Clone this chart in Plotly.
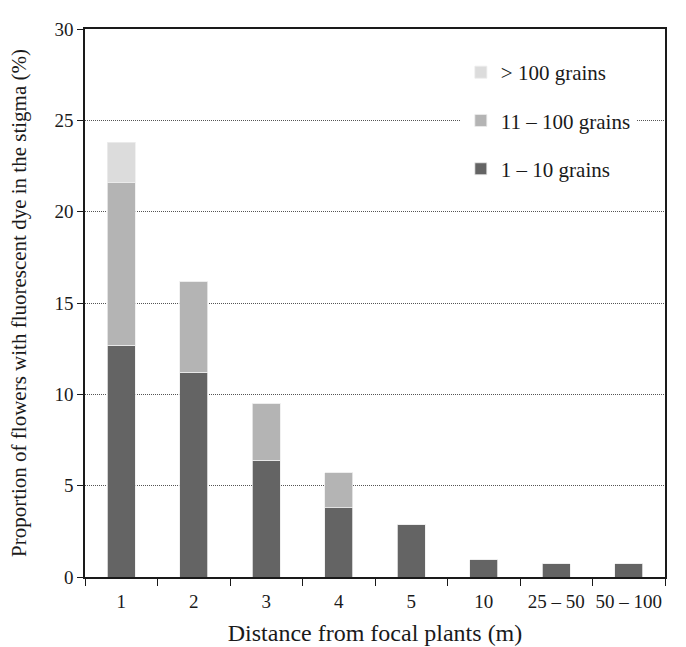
import plotly.graph_objects as go

categories = ["1", "2", "3", "4", "5", "10", "25 – 50", "50 – 100"]
grains_1_10 = [12.7, 11.2, 6.4, 3.8, 2.9, 0.95, 0.72, 0.72]
grains_11_100 = [8.9, 5.0, 3.1, 1.9, 0, 0, 0, 0]
grains_over_100 = [2.2, 0, 0, 0, 0, 0, 0, 0]
y_ticks = [0, 5, 10, 15, 20, 25, 30]

series = [
    ("1 – 10 grains", grains_1_10, "#646464", 3),
    ("11 – 100 grains", grains_11_100, "#b4b4b4", 2),
    ("> 100 grains", grains_over_100, "#dcdcdc", 1),
]

fig = go.Figure()
for name, vals, col, rank in series:
    fig.add_trace(go.Bar(
        x=categories, y=vals, name=name, legendgroup=name, legendrank=rank,
        marker=dict(color=col, line=dict(color="#eeeeee", width=0.8)),
    ))

font_family = "Liberation Serif"
fig.update_layout(
    width=686, height=647,
    barmode="stack", bargap=0.61,
    plot_bgcolor="white", paper_bgcolor="white",
    margin=dict(l=85, r=21, t=29, b=70),
    font=dict(family=font_family, size=19, color="#1a1a1a"),
    showlegend=True,
    legend=dict(
        x=0.648, y=0.958, xanchor="left", yanchor="top",
        traceorder="grouped", tracegroupgap=18,
        bgcolor="white", font=dict(size=21, family=font_family),
        itemwidth=30,
    ),
    xaxis=dict(
        showline=True, linecolor="#1a1a1a", linewidth=1.5, mirror=True,
        ticks="outside", tickson="boundaries", ticklen=7, tickcolor="#1a1a1a",
        tickfont=dict(size=19), tickangle=0, ticklabelstandoff=6,
        showgrid=False, automargin=False,
        title=dict(text="Distance from focal plants (m)", font=dict(size=24), standoff=14),
    ),
    yaxis=dict(
        range=[0, 30], tickvals=y_ticks,
        showline=True, linecolor="#1a1a1a", linewidth=1.5, mirror=True,
        ticks="outside", ticklen=6, tickcolor="#1a1a1a",
        tickfont=dict(size=19), automargin=False,
        showgrid=True, gridcolor="#555555", griddash="1px,1px", gridwidth=1,
        zeroline=False,
        title=dict(text="Proportion of flowers with fluorescent dye in the stigma (%)", font=dict(size=21), standoff=22),
    ),
)

fig.write_html(
    "out.html",
    config={"displayModeBar": False},
    post_script="document.body.style.margin='0';document.body.style.overflow='hidden';",
)
